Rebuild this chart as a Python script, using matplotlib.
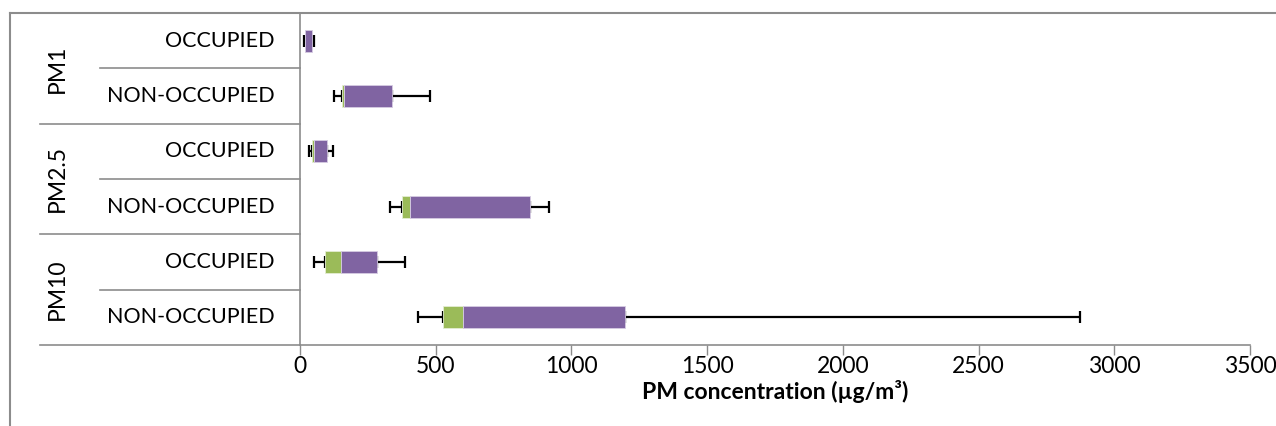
import numpy as np
import matplotlib.pyplot as plt
from matplotlib.lines import Line2D

plt.rcParams['font.family'] = ['Lato', 'DejaVu Sans']

groups = ['PM1', 'PM2.5', 'PM10']
rows = ['OCCUPIED', 'NON-OCCUPIED']
# box plot stats per row, top to bottom
mins = [16, 126, 34, 330, 52, 436]
q1 = [18, 155, 44, 374, 91, 526]
med = [20, 161, 50, 407, 150, 601]
q3 = [44, 339, 99, 846, 285, 1198]
maxs = [52, 478, 120, 916, 387, 2874]
xticks = [0, 500, 1000, 1500, 2000, 2500, 3000, 3500]

W, H = 1276, 426
fig = plt.figure(figsize=(W / 100, H / 100), dpi=100)
ax = fig.add_axes([300 / W, (H - 345) / H, 950 / W, 332 / H])

y = np.arange(len(q1)) + 0.5
mins, q1, med, q3, maxs = map(np.array, (mins, q1, med, q3, maxs))

# whiskers (behind the boxes)
ax.errorbar(q1, y, xerr=[q1 - mins, np.zeros_like(q1)], fmt='none', ecolor='black',
            elinewidth=1.6, capsize=4.5, capthick=1.6, zorder=1)
ax.errorbar(q3, y, xerr=[np.zeros_like(q3), maxs - q3], fmt='none', ecolor='black',
            elinewidth=1.6, capsize=4.5, capthick=1.6, zorder=1)
ax.barh(y, med - q1, left=q1, height=0.4, color='#9BBB59', edgecolor='#e4edd3', linewidth=0.6, zorder=2)
ax.barh(y, q3 - med, left=med, height=0.4, color='#8064A2', edgecolor='#d6cce3', linewidth=0.6, zorder=2)

ax.set_xlim(0, 3500)
ax.set_ylim(6, 0)
ax.set_xticks(xticks)
ax.set_xticklabels([str(t) for t in xticks], fontsize=16.5)
ax.tick_params(axis='x', length=7, width=1, color='#8c8c8c', pad=1)
ax.set_yticks([])
for s in ['top', 'right']:
    ax.spines[s].set_visible(False)
for s in ['left', 'bottom']:
    ax.spines[s].set_color('#8c8c8c')
    ax.spines[s].set_linewidth(1.2)
ax.set_xlabel('PM concentration (µg/m³)', fontsize=16.5, fontweight='bold', labelpad=2)

# multi-level category axis
tr = ax.get_yaxis_transform()
x_grp = (40 - 300) / 950
x_sub = (100 - 300) / 950
for i in range(len(q1)):
    ax.text(-25 / 950, y[i], rows[i % 2], transform=tr, ha='right', va='center', fontsize=15.5)
    yb = i + 1
    x0 = x_grp if i % 2 == 1 else x_sub
    ax.add_line(Line2D([x0, 0], [yb, yb], transform=tr, color='#8c8c8c', lw=1.2, clip_on=False))
for g, name in enumerate(groups):
    ax.text((57 - 300) / 950, 2 * g + 1, name, transform=tr, rotation=90, ha='center', va='center', fontsize=16.5)

# chart border
fig.add_artist(Line2D([10 / W, 10 / W], [0, (H - 13) / H], color='#8c8c8c', lw=1.5))
fig.add_artist(Line2D([10 / W, 1], [(H - 13) / H, (H - 13) / H], color='#8c8c8c', lw=1.5))

fig.savefig('out.png', dpi=100)
